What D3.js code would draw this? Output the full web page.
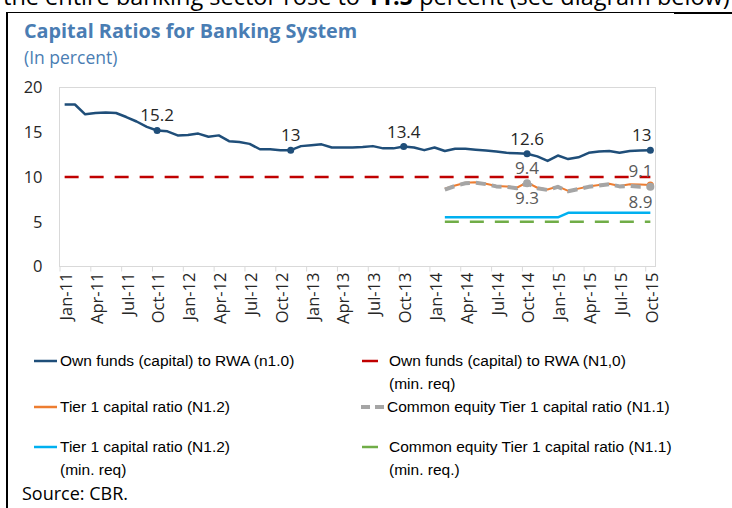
<!DOCTYPE html>
<html>
<head>
<meta charset="utf-8">
<script src="https://cdn.jsdelivr.net/npm/d3@7"></script>
<style>
  body { margin: 0; background: #fff; }
  svg { display: block; font-family: "Open Sans", "Segoe UI", sans-serif; }
</style>
</head>
<body>
<svg id="chart" width="732" height="508"></svg>
<script>
// month index 0 = Jan-11 ... 57 = Oct-15
var tickLabels = ["Jan-11","Apr-11","Jul-11","Oct-11","Jan-12","Apr-12","Jul-12","Oct-12","Jan-13","Apr-13",
                  "Jul-13","Oct-13","Jan-14","Apr-14","Jul-14","Oct-14","Jan-15","Apr-15","Jul-15","Oct-15"];
var yTicks = [0, 5, 10, 15, 20];

var ownFunds = [18.1,18.1,17.0,17.15,17.2,17.15,16.7,16.2,15.6,15.2,15.1,14.65,14.7,14.85,14.5,14.65,14.0,13.9,13.7,13.1,
                13.1,13.0,13.0,13.45,13.55,13.65,13.3,13.3,13.3,13.35,13.45,13.2,13.2,13.4,13.3,13.0,13.3,12.9,13.15,13.15,
                13.05,12.95,12.85,12.7,12.65,12.6,12.3,11.8,12.4,12.0,12.2,12.7,12.85,12.9,12.7,12.9,12.95,13.0];
var ownFundsMin = 10;
// Basel III ratios reported from Feb-14 (index 37)
var firstB3 = 37;
var tier1 = [8.7,9.05,9.35,9.4,9.25,9.0,8.95,8.8,9.4,8.8,8.6,8.95,8.45,8.7,8.95,9.1,9.25,9.0,9.2,9.15,9.1];
var cet1  = [8.6,9.0,9.3,9.35,9.2,8.95,8.9,8.75,9.3,8.75,8.55,8.9,8.4,8.65,8.9,9.05,9.2,8.95,9.0,8.9,8.9];
var tier1Min = [5.5,5.5,5.5,5.5,5.5,5.5,5.5,5.5,5.5,5.5,5.5,5.5,6,6,6,6,6,6,6,6,6];
var cet1Min = 5;

var svg = d3.select("#chart");

// text above the box (cut off at the top, as in the source page)
var topText = svg.append("text").attr("x", 3).attr("y", 5).attr("font-size", 23.5).attr("fill", "#000");
topText.append("tspan").text("the entire banking sector rose to ");
topText.append("tspan").attr("font-weight", "bold").text("11.5");
topText.append("tspan").text(" percent (see diagram below)");

// box border
svg.append("line").attr("x1", 6).attr("x2", 732).attr("y1", 12.5).attr("y2", 12.5).attr("stroke", "#000").attr("stroke-width", 1);
svg.append("line").attr("x1", 674).attr("x2", 732).attr("y1", 13).attr("y2", 13).attr("stroke", "#000").attr("stroke-width", 2);
svg.append("line").attr("x1", 7).attr("x2", 7).attr("y1", 12).attr("y2", 508).attr("stroke", "#000").attr("stroke-width", 2);

svg.append("text").attr("x", 24).attr("y", 38).attr("font-size", 19.8).attr("font-weight", "bold")
  .attr("fill", "#4a7db3").text("Capital Ratios for Banking System");
svg.append("text").attr("x", 24).attr("y", 64).attr("font-size", 17.5)
  .attr("fill", "#4a7db3").text("(In percent)");

var left = 59.5, right = 655.5, plotTop = 87.5, plotBottom = 266.5;
var x = d3.scaleLinear().domain([-0.5, 57.5]).range([left, right]);
var y = d3.scaleLinear().domain([0, 20]).range([plotBottom, plotTop]);

svg.append("rect").attr("x", left).attr("y", plotTop).attr("width", right - left).attr("height", plotBottom - plotTop)
  .attr("fill", "none").attr("stroke", "#d9d9d9");

var yAxis = svg.append("g").attr("transform", "translate(" + left + ",0)")
  .call(d3.axisLeft(y).tickValues(yTicks).tickSize(0).tickPadding(17));
yAxis.select(".domain").remove();
yAxis.selectAll("text").attr("font-size", 16.5).attr("fill", "#262626").attr("font-family", "Open Sans");

var tickIdx = tickLabels.map(function (d, i) { return i * 3; });
var xTicks = svg.append("g").attr("transform", "translate(0," + plotBottom + ")")
  .call(d3.axisBottom(x).tickValues(tickIdx.map(function (i) { return i - 0.5; })).tickSize(5).tickFormat(""));
xTicks.select(".domain").remove();
xTicks.selectAll("line").attr("stroke", "#d9d9d9");

var xLabels = svg.append("g").attr("transform", "translate(0," + plotBottom + ")")
  .call(d3.axisBottom(x).tickValues(tickIdx).tickSize(0).tickFormat(function (d, i) { return tickLabels[i]; }));
xLabels.select(".domain").remove();
xLabels.selectAll("text")
  .attr("font-size", 16.5).attr("font-family", "Open Sans").attr("fill", "#262626")
  .attr("text-anchor", "end").attr("transform", "rotate(-90)")
  .attr("x", -6).attr("y", 1).attr("dy", "0.35em");

function series(vals, start) {
  return vals.map(function (v, i) { return { i: i + start, v: v }; });
}
function constant(v, start, end) {
  return d3.range(start, end + 1).map(function (i) { return { i: i, v: v }; });
}
var line = d3.line().x(function (d) { return x(d.i); }).y(function (d) { return y(d.v); });

function draw(data, color, width, dash) {
  svg.append("path").datum(data).attr("d", line).attr("fill", "none")
    .attr("stroke", color).attr("stroke-width", width)
    .attr("stroke-dasharray", dash || null).attr("stroke-linejoin", "round");
}

draw(constant(ownFundsMin, 0, 57), "#c00000", 2.5, "14,11");
draw(constant(cet1Min, firstB3, 57), "#70ad47", 2.5, "14,11");
draw(series(tier1Min, firstB3), "#00b0f0", 2.5);
draw(series(ownFunds, 0), "#1f4e79", 2.5);
draw(series(tier1, firstB3), "#ed7d31", 2);
draw(series(cet1, firstB3), "#a5a5a5", 4, "10,6");

// markers and data labels
var mainMarks = [9, 22, 33, 45, 57];
svg.selectAll(".mainDot").data(mainMarks).enter().append("circle")
  .attr("cx", function (i) { return x(i); }).attr("cy", function (i) { return y(ownFunds[i]); })
  .attr("r", 3.5).attr("fill", "#1f4e79");
svg.selectAll(".mainLab").data(mainMarks).enter().append("text")
  .attr("x", function (i) { return i == 57 ? x(i) + 1 : x(i); })
  .attr("y", function (i) { return y(ownFunds[i]) - 9; })
  .attr("text-anchor", function (i) { return i == 57 ? "end" : "middle"; })
  .attr("font-size", 17).attr("fill", "#262626")
  .text(function (i) { return d3.format("")(+ownFunds[i].toFixed(1)); });

svg.append("circle").attr("cx", x(57)).attr("cy", y(tier1[57 - firstB3])).attr("r", 3.5).attr("fill", "#ed7d31");
var b3Marks = [45, 57];
svg.selectAll(".cetDot").data(b3Marks).enter().append("circle")
  .attr("cx", function (i) { return x(i); }).attr("cy", function (i) { return y(cet1[i - firstB3]); })
  .attr("r", 4).attr("fill", "#a5a5a5");
b3Marks.forEach(function (i) {
  var anchor = i == 57 ? "end" : "middle";
  var lx = i == 57 ? x(i) + 2 : x(i);
  svg.append("text").attr("x", lx).attr("y", y(Math.max(tier1[i - firstB3], cet1[i - firstB3])) - 8)
    .attr("text-anchor", anchor).attr("font-size", 17).attr("fill", "#595959")
    .text(tier1[i - firstB3].toFixed(1));
  svg.append("text").attr("x", lx).attr("y", y(Math.min(tier1[i - firstB3], cet1[i - firstB3])) + 21)
    .attr("text-anchor", anchor).attr("font-size", 17).attr("fill", "#595959")
    .text(cet1[i - firstB3].toFixed(1));
});

// legend
var legendItems = [
  { lines: ["Own funds (capital) to RWA (n1.0)"], color: "#1f4e79", x: 34, w: 23, tx: 60, y: 361 },
  { lines: ["Own funds (capital) to RWA (N1,0)", "(min. req)"], color: "#c00000", x: 362, w: 16, tx: 389, y: 361 },
  { lines: ["Tier 1 capital ratio (N1.2)"], color: "#ed7d31", x: 34, w: 23, tx: 60, y: 407 },
  { lines: ["Common equity Tier 1 capital ratio (N1.1)"], color: "#a5a5a5", x: 361, w: 25, tx: 387, y: 407, dash: "9,5", sw: 4 },
  { lines: ["Tier 1 capital ratio (N1.2)", "(min. req)"], color: "#00b0f0", x: 34, w: 23, tx: 60, y: 447 },
  { lines: ["Common equity Tier 1 capital ratio (N1.1)", "(min. req.)"], color: "#70ad47", x: 362, w: 16, tx: 389, y: 447 }
];
var lg = svg.selectAll(".legend").data(legendItems).enter().append("g");
lg.append("line")
  .attr("x1", function (d) { return d.x; }).attr("x2", function (d) { return d.x + d.w; })
  .attr("y1", function (d) { return d.y; }).attr("y2", function (d) { return d.y; })
  .attr("stroke", function (d) { return d.color; }).attr("stroke-width", function (d) { return d.sw || 2.5; })
  .attr("stroke-dasharray", function (d) { return d.dash || null; });
lg.each(function (d) {
  var g = d3.select(this);
  d.lines.forEach(function (t, k) {
    g.append("text").attr("x", d.tx).attr("y", d.y + k * 23).attr("dy", "0.35em")
      .attr("font-size", 15.5).attr("font-family", "'Liberation Sans Narrow', 'Arial Narrow', sans-serif")
      .attr("fill", "#000").text(t);
  });
});

svg.append("text").attr("x", 22).attr("y", 500).attr("font-size", 18).attr("fill", "#000").text("Source: CBR.");
</script>
</body>
</html>
